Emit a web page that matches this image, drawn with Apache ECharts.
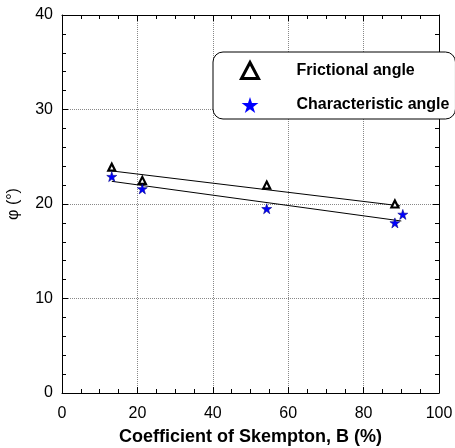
<!DOCTYPE html>
<html>
<head>
<meta charset="utf-8">
<script src="https://cdn.jsdelivr.net/npm/echarts@6/dist/echarts.min.js"></script>
<style>
  html, body { margin: 0; padding: 0; background: #fff; }
  #chart { width: 455px; height: 448px; }
</style>
</head>
<body>
<div id="chart"></div>
<script>
// Skempton coefficient B (%) and the measured angles (degrees)
const frictionalB = [13.2, 21.3, 54.3, 88.3];
const frictionalPhi = [23.9, 22.5, 22.0, 20.0];
const characteristicB = [13.2, 21.3, 54.3, 88.3, 90.4];
const characteristicPhi = [22.9, 21.6, 19.5, 18.0, 18.9];

// Trend lines drawn through each set (end points)
const frictionalFitB = [13.2, 89.7];
const frictionalFitPhi = [23.5, 19.8];
const characteristicFitB = [13.2, 90.0];
const characteristicFitPhi = [22.4, 18.2];

const xTicks = { min: 0, max: 100, interval: 20 };
const yTicks = { min: 0, max: 40, interval: 10 };

const FONT = '"Liberation Sans", Arial, Helvetica, sans-serif';
const STAR = 'path://M50,0 L61.2,34.5 L97.6,34.5 L68.2,55.9 L79.4,90.5 L50,69.1 L20.6,90.5 L31.8,55.9 L2.4,34.5 L38.8,34.5 Z';

const zip = (xs, ys) => xs.map((x, i) => [x, ys[i]]);

const chart = echarts.init(document.getElementById('chart'), null, { renderer: 'canvas' });

function axisBase(extra) {
  return Object.assign({
    type: 'value',
    axisLine: { show: true, onZero: false, lineStyle: { color: '#000', width: 1 } },
    axisTick: { show: true, inside: true, length: 6, lineStyle: { color: '#000' } },
    minorTick: { show: true, length: 4, lineStyle: { color: '#000' } },
    splitLine: { show: false },
    axisLabel: { show: false }
  }, extra);
}

const option = {
  animation: false,
  backgroundColor: '#fff',
  grid: { left: 62, right: 16, top: 15, bottom: 55, containLabel: false, outerBoundsMode: 'none' },
  xAxis: [
    axisBase({
      position: 'bottom',
      min: xTicks.min, max: xTicks.max, interval: xTicks.interval,
      minorTick: { show: true, splitNumber: 4, length: 4, lineStyle: { color: '#000' } },
      splitLine: { show: true, lineStyle: { color: '#888', type: [1, 1], width: 1 } },
      axisLabel: { show: true, color: '#000', fontFamily: FONT, fontSize: 16, margin: 13 },
      name: 'Coefficient of Skempton, B (%)',
      nameLocation: 'middle',
      nameGap: 35,
      nameTextStyle: { color: '#000', fontFamily: FONT, fontSize: 18, fontWeight: 'bold' }
    }),
    axisBase({
      position: 'top',
      min: xTicks.min, max: xTicks.max, interval: xTicks.interval,
      minorTick: { show: true, splitNumber: 4, length: 4, lineStyle: { color: '#000' } }
    })
  ],
  yAxis: [
    axisBase({
      position: 'left',
      min: yTicks.min, max: yTicks.max, interval: yTicks.interval,
      minorTick: { show: true, splitNumber: 5, length: 4, lineStyle: { color: '#000' } },
      splitLine: { show: true, lineStyle: { color: '#888', type: [1, 1], width: 1 } },
      axisLabel: { show: true, color: '#000', fontFamily: FONT, fontSize: 16, margin: 9 },
      name: 'φ (°)',
      nameLocation: 'middle',
      nameGap: 40,
      nameRotate: 90,
      nameTextStyle: { color: '#000', fontFamily: FONT, fontSize: 16 }
    }),
    axisBase({
      position: 'right',
      min: yTicks.min, max: yTicks.max, interval: yTicks.interval,
      minorTick: { show: true, splitNumber: 5, length: 4, lineStyle: { color: '#000' } }
    })
  ],
  legend: {
    orient: 'vertical',
    left: 213,
    top: 52,
    padding: [9, 6, 6, 27],
    itemGap: 17,
    itemWidth: 17,
    itemHeight: 16,
    backgroundColor: '#fff',
    borderColor: '#000',
    borderWidth: 1,
    borderRadius: 10,
    textStyle: { color: '#000', fontFamily: FONT, fontSize: 16, fontWeight: 'bold', padding: [0, 0, 0, 33] },
    data: [
      { name: 'Frictional angle', icon: 'triangle',
        itemStyle: { color: '#fff', borderColor: '#000', borderWidth: 3 } },
      { name: 'Characteristic angle', icon: STAR,
        itemStyle: { color: '#0000ff', borderWidth: 0 } }
    ]
  },
  series: [
    {
      name: 'Frictional fit', type: 'line', silent: true,
      data: zip(frictionalFitB, frictionalFitPhi),
      showSymbol: false, symbol: 'none',
      lineStyle: { color: '#000', width: 1 }
    },
    {
      name: 'Characteristic fit', type: 'line', silent: true,
      data: zip(characteristicFitB, characteristicFitPhi),
      showSymbol: false, symbol: 'none',
      lineStyle: { color: '#000', width: 1 }
    },
    {
      name: 'Frictional angle', type: 'scatter',
      data: zip(frictionalB, frictionalPhi),
      symbol: 'triangle', symbolSize: 7,
      itemStyle: { color: '#fff', borderColor: '#000', borderWidth: 2.2, opacity: 1 },
      z: 5
    },
    {
      name: 'Characteristic angle', type: 'scatter',
      data: zip(characteristicB, characteristicPhi),
      symbol: STAR, symbolSize: 10,
      itemStyle: { color: '#0000ff', borderColor: '#00008a', borderWidth: 0.6, opacity: 1 },
      z: 6
    }
  ]
};

chart.setOption(option);
</script>
</body>
</html>
